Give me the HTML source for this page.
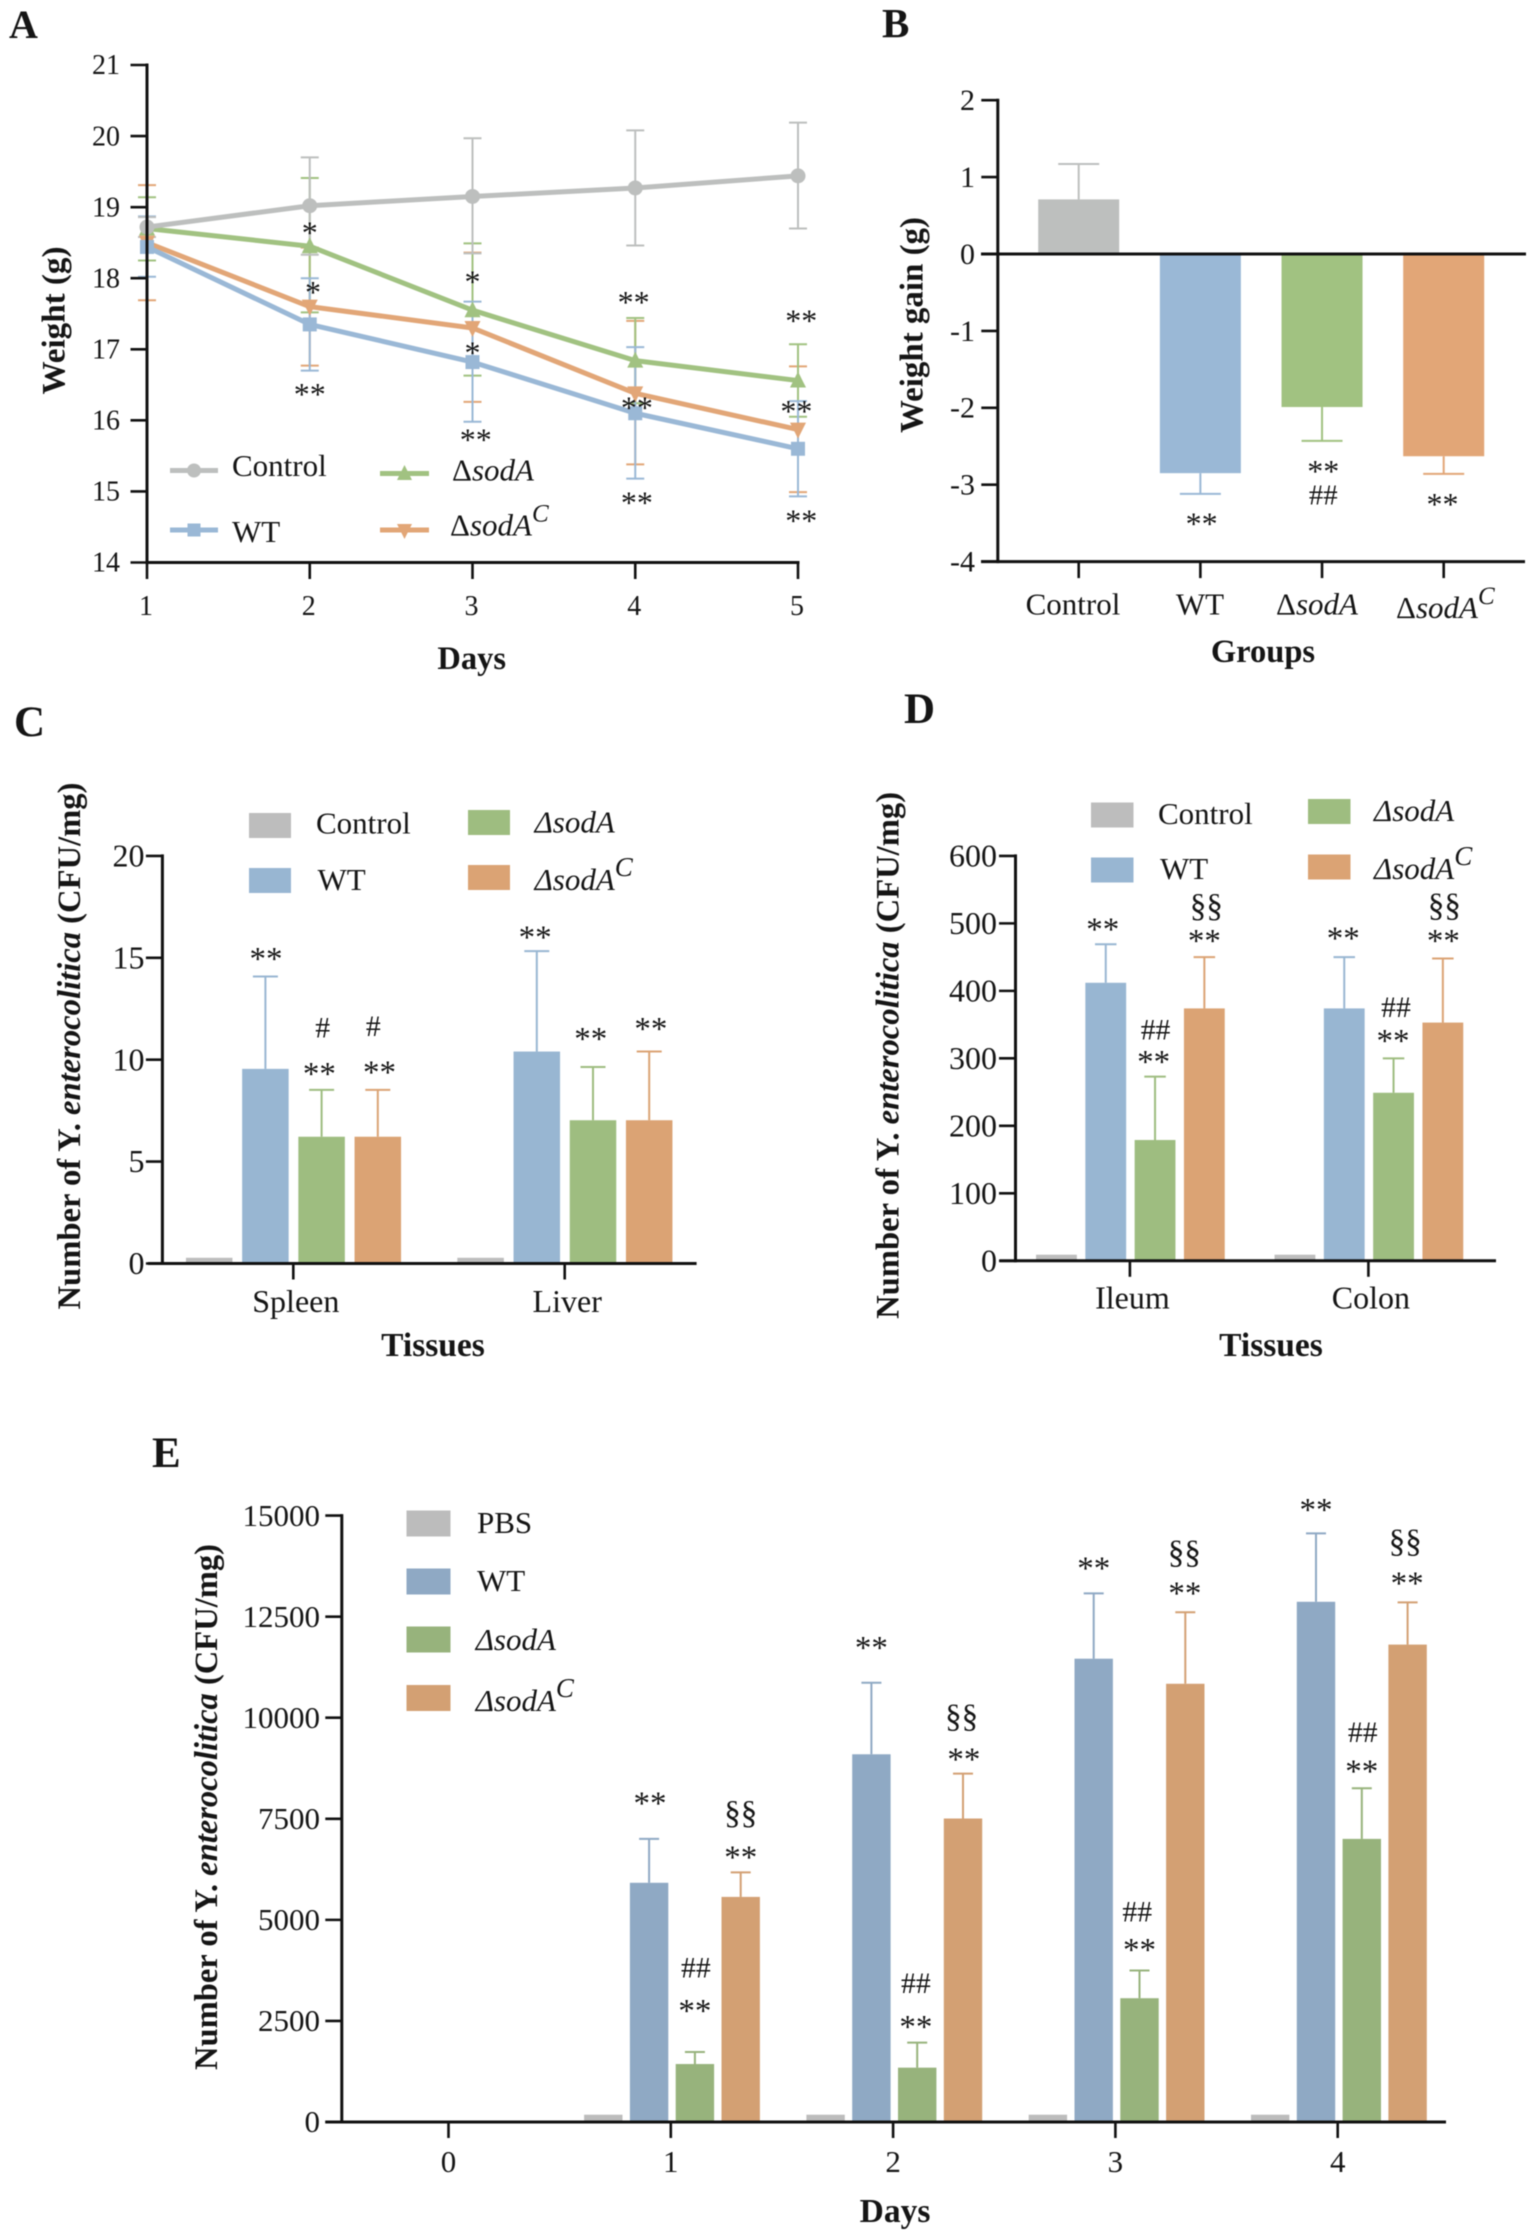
<!DOCTYPE html>
<html lang="en">
<head>
<meta charset="utf-8">
<title>Weight and bacterial load panels</title>
<style>
html,body{margin:0;padding:0;background:#fff;}
svg{display:block;filter:blur(0.45px);}
text{font-family:"Liberation Serif","DejaVu Serif",serif;fill:#151515;}
.letter{font-size:40px;font-weight:bold;}
.letter-big{font-size:43px;font-weight:bold;}
.title{font-size:32.5px;font-weight:bold;}
.leg{font-size:31px;}
.it{font-style:italic;}
.sup{font-style:italic;font-size:25px;}
.sup-big{font-style:italic;font-size:27px;}
</style>
</head>
<body>
<svg id="figure" xmlns="http://www.w3.org/2000/svg" width="1535" height="2239" viewBox="0 0 1535 2239">
<rect x="0" y="0" width="1535" height="2239" fill="#fff"/>

<!-- Panel A -->
<g id="panel-a">
<text class="letter" x="9" y="38">A</text>
<text class="title" transform="rotate(-90 64.7 320.5)" x="64.7" y="320.5" text-anchor="middle" textLength="148" lengthAdjust="spacingAndGlyphs">Weight (g)</text>
<text class="title" x="471.7" y="669" text-anchor="middle">Days</text>
<g>
<g>
<line x1="170" y1="470.5" x2="218" y2="470.5" stroke="#bdbfbe" stroke-width="5"/><circle cx="194" cy="470.5" r="7" fill="#bdbfbe"/>
<text class="leg" x="232" y="476">Control</text></g>
<g>
<line x1="170" y1="530" x2="218" y2="530" stroke="#9ab8d6" stroke-width="5"/><rect x="187.5" y="523.5" width="13" height="13" fill="#9ab8d6"/>
<text class="leg" x="232" y="542">WT</text></g>
<g>
<line x1="380" y1="473.5" x2="429" y2="473.5" stroke="#a1c281" stroke-width="5"/><polygon points="404.5,465 412,480 397,480" fill="#a1c281"/>
<text class="leg" x="452" y="480.5">Δ<tspan class="it">sodA</tspan></text></g>
<g>
<line x1="380" y1="530" x2="429" y2="530" stroke="#e2a677" stroke-width="5"/><polygon points="404.5,539 412,524 397,524" fill="#e2a677"/>
<text class="leg" x="450" y="535.5">Δ<tspan class="it">sodA</tspan><tspan class="sup" dy="-14">C</tspan></text></g>
</g>
</g>

<!-- Panel B -->
<g id="panel-b">
<text class="letter" x="882" y="37" style="font-size:41px">B</text>
<text class="title" transform="rotate(-90 922.4 325)" x="922.4" y="325" text-anchor="middle" textLength="216" lengthAdjust="spacingAndGlyphs">Weight gain (g)</text>
<text class="title" x="1263" y="662" text-anchor="middle">Groups</text>
<text class="leg" x="1073" y="614.5" text-anchor="middle">Control</text>
<text class="leg" x="1200" y="614.5" text-anchor="middle">WT</text>
<text class="leg" x="1317" y="614.5" text-anchor="middle">Δ<tspan class="it">sodA</tspan></text>
<text class="leg" x="1396" y="618">Δ<tspan class="it">sodA</tspan><tspan class="sup" dy="-14">C</tspan></text>
</g>

<!-- Panel C -->
<g id="panel-c">
<text class="letter-big" x="14" y="736">C</text>
<text class="title" transform="rotate(-90 80 1046)" x="80" y="1046" text-anchor="middle" textLength="527" lengthAdjust="spacingAndGlyphs">Number of Y. <tspan class="it">enterocolitica</tspan> (CFU/mg)</text>
<text class="title" x="433" y="1356" text-anchor="middle" style="font-size:33.5px">Tissues</text>
<g>
<g><rect x="249" y="813" width="42" height="25" fill="#bdbdbd"/><text class="leg" x="316" y="833.5">Control</text></g>
<g><rect x="249" y="868" width="42" height="25" fill="#98b6d2"/><text class="leg" x="317.5" y="890">WT</text></g>
<g><rect x="468" y="810" width="42" height="25" fill="#9ebd80"/><text class="leg it" x="534.6" y="832.7">ΔsodA</text></g>
<g><rect x="468" y="865" width="42" height="25" fill="#dba374"/><text class="leg it" x="534.6" y="890">ΔsodA<tspan class="sup-big" dy="-14">C</tspan></text></g>
</g>
</g>

<!-- Panel D -->
<g id="panel-d">
<text class="letter-big" x="904" y="723">D</text>
<text class="title" transform="rotate(-90 898.5 1055.4)" x="898.5" y="1055.4" text-anchor="middle" textLength="527" lengthAdjust="spacingAndGlyphs">Number of Y. <tspan class="it">enterocolitica</tspan> (CFU/mg)</text>
<text class="title" x="1271" y="1356" text-anchor="middle" style="font-size:33.5px">Tissues</text>
<g>
<g><rect x="1091" y="802.5" width="42.5" height="25" fill="#bdbdbd"/><text class="leg" x="1158" y="824">Control</text></g>
<g><rect x="1091" y="857.5" width="42.5" height="25" fill="#98b6d2"/><text class="leg" x="1160" y="879">WT</text></g>
<g><rect x="1308" y="799" width="42.5" height="25" fill="#9ebd80"/><text class="leg it" x="1374" y="821">ΔsodA</text></g>
<g><rect x="1308" y="854.5" width="42.5" height="25" fill="#dba374"/><text class="leg it" x="1374" y="879">ΔsodA<tspan class="sup-big" dy="-14">C</tspan></text></g>
</g>
</g>

<!-- Panel E -->
<g id="panel-e">
<text class="letter-big" x="152" y="1467">E</text>
<text class="title" transform="rotate(-90 216.8 1807)" x="216.8" y="1807" text-anchor="middle" textLength="526" lengthAdjust="spacingAndGlyphs">Number of Y. <tspan class="it">enterocolitica</tspan> (CFU/mg)</text>
<text class="title" x="895" y="2222" text-anchor="middle" style="font-size:33.5px">Days</text>
<g>
<g><rect x="406.5" y="1510.5" width="44" height="26" fill="#bcbcbc"/><text class="leg" x="477" y="1533">PBS</text></g>
<g><rect x="406.5" y="1568.5" width="44" height="26" fill="#8fa9c4"/><text class="leg" x="477" y="1591">WT</text></g>
<g><rect x="406.5" y="1626.5" width="44" height="26" fill="#97b37c"/><text class="leg it" x="475.7" y="1650">ΔsodA</text></g>
<g><rect x="406.5" y="1685" width="44" height="26" fill="#d3a073"/><text class="leg it" x="475.7" y="1711">ΔsodA<tspan class="sup-big" dy="-14">C</tspan></text></g>
</g>
</g>
</svg>

<script>
/* ---------- Panel A data ---------- */
const weightDays = [1, 2, 3, 4, 5];
const weightTicks = [14, 15, 16, 17, 18, 19, 20, 21];
const controlWeight = [18.72, 19.02, 19.15, 19.27, 19.44];
const controlUpper = [18.86, 19.70, 19.97, 20.08, 20.19];
const controlLower = [18.58, 18.33, 18.35, 18.46, 18.70];
const wtWeight = [18.44, 17.35, 16.82, 16.10, 15.60];
const wtUpper = [18.87, 18.00, 17.67, 17.03, 16.27];
const wtLower = [18.02, 16.70, 15.98, 15.18, 14.93];
const sodAWeight = [18.70, 18.45, 17.55, 16.84, 16.56];
const sodAUpper = [19.14, 19.41, 18.49, 17.44, 17.07];
const sodALower = [18.25, 17.52, 16.63, 16.24, 16.05];
const sodACWeight = [18.50, 17.60, 17.30, 16.38, 15.87];
const sodACUpper = [19.31, 18.43, 18.36, 17.40, 16.76];
const sodACLower = [17.69, 16.77, 16.26, 15.38, 14.99];
const weightAnnDay = [2, 2.02, 2, 3, 3, 3.02, 3.99, 4.01, 4.01, 5.02, 4.99, 5.02];
const weightAnnValue = [18.70, 17.86, 16.43, 18.01, 17.01, 15.79, 17.72, 16.24, 14.90, 17.46, 16.19, 14.65];
const weightAnnText = ['*', '*', '**', '*', '*', '**', '**', '**', '**', '**', '**', '**'];

/* ---------- Panel B data ---------- */
const gainGroups = ['Control', 'WT', 'sodA', 'sodAC'];
const gainTicks = [-4, -3, -2, -1, 0, 1, 2];
const gainValues = [0.71, -2.85, -1.99, -2.63];
const gainErrorEnds = [1.17, -3.12, -2.43, -2.86];
const gainAnnGroup = [1.01, 2.01, 2.01, 2.99];
const gainAnnValue = [-3.455, -2.77, -3.13, -3.2];
const gainAnnText = ['**', '**', '##', '**'];

/* ---------- Panel C data ---------- */
const tissueTicksC = [0, 5, 10, 15, 20];
const tissuesC = ['Spleen', 'Liver'];
const controlC = [0.28, 0.28];
const wtC = [9.55, 10.4];
const wtCErr = [14.08, 15.33];
const sodAC_C = [6.22, 7.03];
const sodAC_CErr = [8.52, 9.64];
const compC = [6.22, 7.03];
const compCErr = [8.52, 10.4];
const annCGroup = [0, 0, 0, 0, 0, 1, 1, 1];
const annCSeries = [1.01, 1.96, 2.02, 3.03, 2.92, 0.97, 1.96, 3.03];
const annCValue = [15.18, 9.55, 11.59, 9.62, 11.65, 16.25, 11.26, 11.74];
const annCText = ['**', '**', '#', '**', '#', '**', '**', '**'];

/* ---------- Panel D data ---------- */
const tissueTicksD = [0, 100, 200, 300, 400, 500, 600];
const tissuesD = ['Ileum', 'Colon'];
const controlD = [9, 9];
const wtD = [412, 374];
const wtDErr = [469, 450];
const sodAD = [179, 249];
const sodADErr = [273, 300];
const compD = [374, 353];
const compDErr = [450, 448];
const annDGroup = [0, 0, 0, 0, 0, 1, 1, 1, 1, 1];
const annDSeries = [0.94, 1.97, 2.01, 3, 3.04, 0.98, 1.99, 2.05, 3.01, 3.03];
const annDValue = [498, 302, 343, 481, 524, 485, 333, 376, 481, 525];
const annDText = ['**', '**', '##', '**', '§§', '**', '**', '##', '**', '§§'];

/* ---------- Panel E data ---------- */
const dayTicksE = [0, 2500, 5000, 7500, 10000, 12500, 15000];
const daysE = ['0', '1', '2', '3', '4'];
const pbsE = [0, 180, 180, 180, 180];
const wtE = [0, 5917, 9096, 11460, 12868];
const wtEErr = [0, 7003, 10866, 13075, 14561];
const sodAE = [0, 1434, 1344, 3062, 7003];
const sodAEErr = [0, 1731, 1964, 3747, 8256];
const compE = [0, 5568, 7507, 10840, 11809];
const compEErr = [0, 6176, 8618, 12610, 12855];
const annEGroup = [1, 1, 1, 1, 1, 2, 2, 2, 2, 2, 3, 3, 3, 3, 3, 4, 4, 4, 4, 4];
const annESeries = [1.02, 3, 3, 2.02, 2, 1, 2.97, 3.02, 1.97, 1.97, 1, 2.98, 2.99, 1.95, 2, 1, 2.95, 2.99, 2.02, 2];
const annEValue = [7997, 7610, 6667, 3824, 2868, 11848, 10000, 9096, 3437, 2468, 13811, 14057, 13191, 5207, 4380, 15259, 14328, 13450, 9651, 8799];
const annEText = ['**', '§§', '**', '##', '**', '**', '§§', '**', '##', '**', '**', '§§', '**', '##', '**', '**', '§§', '**', '##', '**'];

/* ---------- helpers ---------- */
const NS = 'http://www.w3.org/2000/svg';
const INK = '#111';
function mk(tag, attrs, parent) {
  const el = document.createElementNS(NS, tag);
  for (const k in attrs) el.setAttribute(k, attrs[k]);
  parent.appendChild(el);
  return el;
}
function linear(d0, d1, r0, r1) {
  return v => r0 + (v - d0) * (r1 - r0) / (d1 - d0);
}
function yAxis(parent, prefix, ticks, yFn, axisX, labelX, fontSize) {
  const yA = Math.min(...ticks), yB = Math.max(...ticks);
  const axis = mk('line', {x1: axisX, x2: axisX, y1: yFn(yA) + 1.5, y2: yFn(yB) - 1.5, stroke: INK, 'stroke-width': 3}, parent);
  
  
  ticks.forEach(t => {
    const tick = mk('line', {x1: axisX - 16.5, x2: axisX, y1: yFn(t), y2: yFn(t), stroke: INK, 'stroke-width': 2.6}, parent);
    
    
    const label = mk('text', {x: labelX, y: yFn(t) + fontSize * 0.33, 'text-anchor': 'end', 'font-size': fontSize}, parent);
    label.textContent = String(t);
    
    
  });
}
function xAxisLine(parent, prefix, x1, x2, y) {
  const axis = mk('line', {x1: x1, x2: x2, y1: y, y2: y, stroke: INK, 'stroke-width': 3}, parent);
  
  
}
function xTick(parent, prefix, x, y, len) {
  const tick = mk('line', {x1: x, x2: x, y1: y, y2: y + len, stroke: INK, 'stroke-width': 2.6}, parent);
  
  
}
function xLabel(parent, prefix, text, x, y, fontSize) {
  const label = mk('text', {x: x, y: y, 'text-anchor': 'middle', 'font-size': fontSize}, parent);
  label.textContent = text;
  
  
}
function bar(parent, name, xc, w, yBase, yVal, color) {
  const r = mk('rect', {x: xc - w / 2, y: Math.min(yBase, yVal), width: w, height: Math.abs(yVal - yBase), fill: color}, parent);
  
  
}
function errorBar(parent, name, xc, yFrom, yTo, capW, color, sw) {
  const g = mk('g', {stroke: color, 'stroke-width': sw, fill: 'none'}, parent);
  
  
  mk('line', {x1: xc, x2: xc, y1: yFrom, y2: yTo}, g);
  mk('line', {x1: xc - capW / 2, x2: xc + capW / 2, y1: yTo, y2: yTo}, g);
}
function annotation(parent, name, text, x, yCenter, baseSize) {
  const isStar = text[0] === '*';
  const isHash = text[0] === '#';
  const fontSize = isHash ? baseSize * 0.9 : baseSize;
  const drop = isStar ? 0.47 : (isHash ? 0.34 : 0.28);
  const t = mk('text', {x: x, y: yCenter + drop * fontSize, 'text-anchor': 'middle', 'font-size': fontSize}, parent);
  t.textContent = text;
  
  
}

/* ---------- Panel A ---------- */
(function () {
  const g = document.getElementById('panel-a');
  const x = linear(1, 5, 147, 798);
  const y = linear(14, 21, 562.5, 65);
  const series = [
    {key: 'soda-c', vals: sodACWeight, up: sodACUpper, lo: sodACLower, color: '#e2a677', marker: 'down'},
    {key: 'soda', vals: sodAWeight, up: sodAUpper, lo: sodALower, color: '#a1c281', marker: 'up'},
    {key: 'wt', vals: wtWeight, up: wtUpper, lo: wtLower, color: '#9ab8d6', marker: 'square'},
    {key: 'control', vals: controlWeight, up: controlUpper, lo: controlLower, color: '#bdbfbe', marker: 'circle'}
  ];
  series.forEach(s => {
    weightDays.forEach((d, i) => {
      errorBar(g, 'error-bar-upper-' + s.key, x(d), y(s.vals[i]), y(s.up[i]), 18, s.color, 2);
      errorBar(g, 'error-bar-lower-' + s.key, x(d), y(s.vals[i]), y(s.lo[i]), 18, s.color, 2);
    });
  });
  series.forEach(s => {
    const pts = weightDays.map((d, i) => x(d) + ',' + y(s.vals[i])).join(' ');
    const line = mk('polyline', {points: pts, fill: 'none', stroke: s.color, 'stroke-width': 5, 'stroke-linejoin': 'round'}, g);
    
    
    weightDays.forEach((d, i) => {
      const px = x(d), py = y(s.vals[i]);
      let m;
      if (s.marker === 'circle') m = mk('circle', {cx: px, cy: py, r: 7.5, fill: s.color}, g);
      else if (s.marker === 'square') m = mk('rect', {x: px - 7, y: py - 7, width: 14, height: 14, fill: s.color}, g);
      else if (s.marker === 'up') m = mk('polygon', {points: px + ',' + (py - 9) + ' ' + (px + 8) + ',' + (py + 7) + ' ' + (px - 8) + ',' + (py + 7), fill: s.color}, g);
      else m = mk('polygon', {points: px + ',' + (py + 9) + ' ' + (px + 8) + ',' + (py - 7) + ' ' + (px - 8) + ',' + (py - 7), fill: s.color}, g);
      
      
    });
  });
  yAxis(g, 'panel-a', weightTicks, y, x(1), 120, 28);
  xAxisLine(g, 'panel-a', x(1) - 1.5, x(5) + 1.5, y(14));
  weightDays.forEach(d => {
    xTick(g, 'panel-a', x(d), y(14), 16.5);
    xLabel(g, 'panel-a', String(d), x(d) - 1, 615, 28);
  });
  weightAnnText.forEach((t, i) => {
    annotation(g, 'significance-mark', t, x(weightAnnDay[i]), y(weightAnnValue[i]), 32);
  });
})();

/* ---------- Panel B ---------- */
(function () {
  const g = document.getElementById('panel-b');
  const x = linear(0, 3, 1078.7, 1443.7);
  const y = linear(0, 2, 254, 100.2);
  const colors = ['#bdbfbe', '#9ab8d6', '#a1c281', '#e2a677'];
  gainGroups.forEach((c, i) => {
    bar(g, 'bar-' + c.toLowerCase(), x(i), 81, y(0), y(gainValues[i]), colors[i]);
    errorBar(g, 'error-bar-' + c.toLowerCase(), x(i), y(gainValues[i]), y(gainErrorEnds[i]), 41, colors[i], 2);
    xTick(g, 'panel-b', x(i), y(-4), 16.5);
  });
  yAxis(g, 'panel-b', gainTicks, y, 997.8, 975, 30);
  xAxisLine(g, 'panel-b', 981, 1525, y(-4));
  const zero = mk('line', {x1: 981, x2: 1526, y1: y(0), y2: y(0), stroke: INK, 'stroke-width': 3}, g);
  
  
  gainAnnText.forEach((t, i) => {
    annotation(g, 'significance-mark', t, x(gainAnnGroup[i]), y(gainAnnValue[i]), 32);
  });
})();

/* ---------- grouped bar charts C, D, E ---------- */
function groupedChart(cfg) {
  const g = document.getElementById(cfg.panel);
  cfg.groups.forEach((label, i) => {
    cfg.series.forEach((s, j) => {
      if (s.vals[i] > 0) {
        bar(g, 'bar-' + s.key + '-' + label.toLowerCase(), cfg.barX(i, j), cfg.barW, cfg.y(0), cfg.y(s.vals[i]), s.color);
        if (s.err) {
          errorBar(g, 'error-bar-' + s.key + '-' + label.toLowerCase(), cfg.barX(i, j), cfg.y(s.vals[i]), cfg.y(s.err[i]), cfg.capW, s.color, 2);
        }
      }
    });
    xTick(g, cfg.prefix, cfg.tickX(i), cfg.y(0), 16);
    xLabel(g, cfg.prefix, label, cfg.tickX(i) + cfg.labelDx, cfg.labelY, cfg.fontSize);
  });
  yAxis(g, cfg.prefix, cfg.ticks, cfg.y, cfg.axisX, cfg.tickLabelX, cfg.fontSize);
  xAxisLine(g, cfg.prefix, cfg.axisLeft, cfg.axisRight, cfg.y(0));
  cfg.annText.forEach((t, i) => {
    annotation(g, 'significance-mark', t, cfg.barX(cfg.annGroup[i], cfg.annSeries[i]), cfg.y(cfg.annValue[i]), 33);
  });
}

const yC = linear(0, 20, 1263.5, 855.9);
const tickXC = linear(0, 1, 293.3, 564.7);
groupedChart({
  panel: 'panel-c', prefix: 'panel-c', groups: tissuesC, ticks: tissueTicksC, y: yC,
  tickX: tickXC, barX: (i, s) => tickXC(i) + (s - 1.5) * 56.2 + 0.2,
  barW: 46.5, capW: 25, labelDx: 2.5, labelY: 1312, fontSize: 32,
  axisX: 162.4, tickLabelX: 144.5, axisLeft: 148, axisRight: 696.6,
  series: [
    {key: 'control', vals: controlC, color: '#bdbdbd'},
    {key: 'wt', vals: wtC, err: wtCErr, color: '#98b6d2'},
    {key: 'soda', vals: sodAC_C, err: sodAC_CErr, color: '#9ebd80'},
    {key: 'soda-c', vals: compC, err: compCErr, color: '#dba374'}
  ],
  annGroup: annCGroup, annSeries: annCSeries, annValue: annCValue, annText: annCText
});

const yD = linear(0, 600, 1260.8, 855.9);
const tickXD = linear(0, 1, 1129.9, 1368.4);
groupedChart({
  panel: 'panel-d', prefix: 'panel-d', groups: tissuesD, ticks: tissueTicksD, y: yD,
  tickX: tickXD, barX: (i, s) => tickXD(i) + (s - 1.5) * 49.3 + 0.5,
  barW: 40.8, capW: 21.5, labelDx: 2.5, labelY: 1308.6, fontSize: 32,
  axisX: 1015.5, tickLabelX: 997, axisLeft: 999.6, axisRight: 1496,
  series: [
    {key: 'control', vals: controlD, color: '#bdbdbd'},
    {key: 'wt', vals: wtD, err: wtDErr, color: '#98b6d2'},
    {key: 'soda', vals: sodAD, err: sodADErr, color: '#9ebd80'},
    {key: 'soda-c', vals: compD, err: compDErr, color: '#dba374'}
  ],
  annGroup: annDGroup, annSeries: annDSeries, annValue: annDValue, annText: annDText
});

const yE = linear(0, 15000, 2122, 1515.6);
const tickXE = linear(0, 4, 448.5, 1337.7);
groupedChart({
  panel: 'panel-e', prefix: 'panel-e', groups: daysE, ticks: dayTicksE, y: yE,
  tickX: tickXE, barX: (i, s) => tickXE(i) + (s - 1.5) * 45.8 + 1.2,
  barW: 38.4, capW: 20, labelDx: 0, labelY: 2172, fontSize: 31,
  axisX: 341.8, tickLabelX: 320, axisLeft: 325.3, axisRight: 1446,
  series: [
    {key: 'pbs', vals: pbsE, color: '#bcbcbc'},
    {key: 'wt', vals: wtE, err: wtEErr, color: '#8fa9c4'},
    {key: 'soda', vals: sodAE, err: sodAEErr, color: '#97b37c'},
    {key: 'soda-c', vals: compE, err: compEErr, color: '#d3a073'}
  ],
  annGroup: annEGroup, annSeries: annESeries, annValue: annEValue, annText: annEText
});
</script>
</body>
</html>
